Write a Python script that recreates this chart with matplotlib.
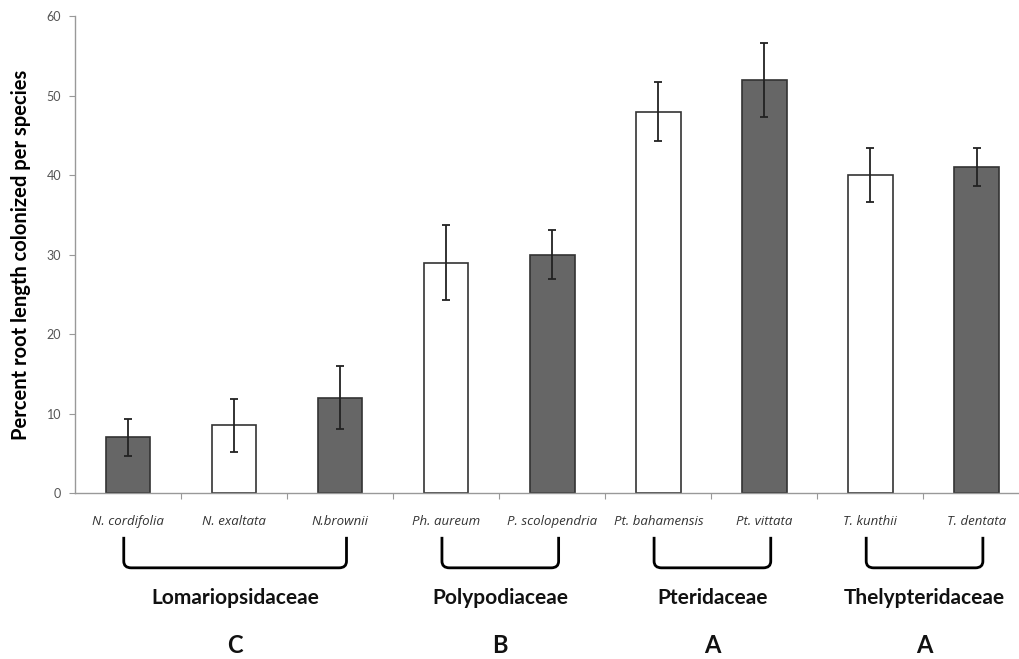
import numpy as np
import matplotlib.pyplot as plt
from matplotlib.path import Path
from matplotlib.patches import PathPatch

species = ['N. cordifolia', 'N. exaltata', 'N.brownii', 'Ph. aureum', 'P. scolopendria',
           'Pt. bahamensis', 'Pt. vittata', 'T. kunthii', 'T. dentata']
colonized = [7, 8.5, 12, 29, 30, 48, 52, 40, 41]
err = [2.3, 3.3, 4.0, 4.7, 3.1, 3.7, 4.7, 3.4, 2.4]
dark = [True, False, True, False, True, False, True, False, True]

families = ['Lomariopsidaceae', 'Polypodiaceae', 'Pteridaceae', 'Thelypteridaceae']
family_span = [(0, 2), (3, 4), (5, 6), (7, 8)]
letters = ['C', 'B', 'A', 'A']

plt.rcParams['font.family'] = ['Lato', 'DejaVu Sans']

fig = plt.figure(figsize=(10.2, 6.59), dpi=100)
ax = fig.add_axes([0.0735, 0.2519, 0.9265, 0.7233])

x = np.arange(len(species))
colors = ['#666666' if d else 'white' for d in dark]
ax.bar(x, colonized, width=0.42, color=colors, edgecolor='#333333', linewidth=1.2,
       yerr=err, error_kw=dict(ecolor='#222222', elinewidth=1.3, capsize=3, capthick=1.3),
       zorder=2)

ax.set_xlim(-0.5, 8.41)
ax.set_ylim(0, 60)
ax.set_yticks(range(0, 61, 10))
ax.tick_params(axis='y', direction='out', length=4, width=0.8, color='#999999',
               labelsize=9, labelcolor='#555555', pad=6)

ax.set_xticks(x)
ax.set_xticklabels(species, fontstyle='italic', fontsize=9.5, color='#333333',
                   family=['Open Sans', 'DejaVu Sans'])
ax.set_xticks(np.arange(0.5, 8.5, 1), minor=True)
ax.tick_params(axis='x', which='major', length=0, pad=16)
ax.tick_params(axis='x', which='minor', direction='out', length=4, width=0.8, color='#999999')

for s in ['top', 'right']:
    ax.spines[s].set_visible(False)
for s in ['left', 'bottom']:
    ax.spines[s].set_color('#999999')
    ax.spines[s].set_linewidth(1.0)

ax.set_ylabel('Percent root length colonized per species', fontsize=14.5, fontweight='bold')
ax.yaxis.set_label_coords(-0.046, 0.5)

# brackets and family labels below the axis
tr = ax.get_xaxis_transform()
y_top, y_bot = -0.092, -0.157
rx, ry = 0.07, 0.014
for (a, b), name, letter in zip(family_span, families, letters):
    x0, x1 = a - 0.04, b + 0.06
    verts = [(x0, y_top), (x0, y_bot + ry), (x0, y_bot), (x0 + rx, y_bot),
             (x1 - rx, y_bot), (x1, y_bot), (x1, y_bot + ry), (x1, y_top)]
    codes = [Path.MOVETO, Path.LINETO, Path.CURVE3, Path.CURVE3,
             Path.LINETO, Path.CURVE3, Path.CURVE3, Path.LINETO]
    ax.add_patch(PathPatch(Path(verts, codes), transform=tr, fill=False,
                           edgecolor='black', linewidth=2.0, clip_on=False))
    xc = (x0 + x1) / 2
    ax.text(xc, -0.220, name, transform=tr, ha='center', va='center',
            fontsize=15, fontweight='bold', color='#111111')
    ax.text(xc, -0.319, letter, transform=tr, ha='center', va='center',
            fontsize=17, fontweight='bold', color='#111111')

fig.savefig('out.png', dpi=100)
